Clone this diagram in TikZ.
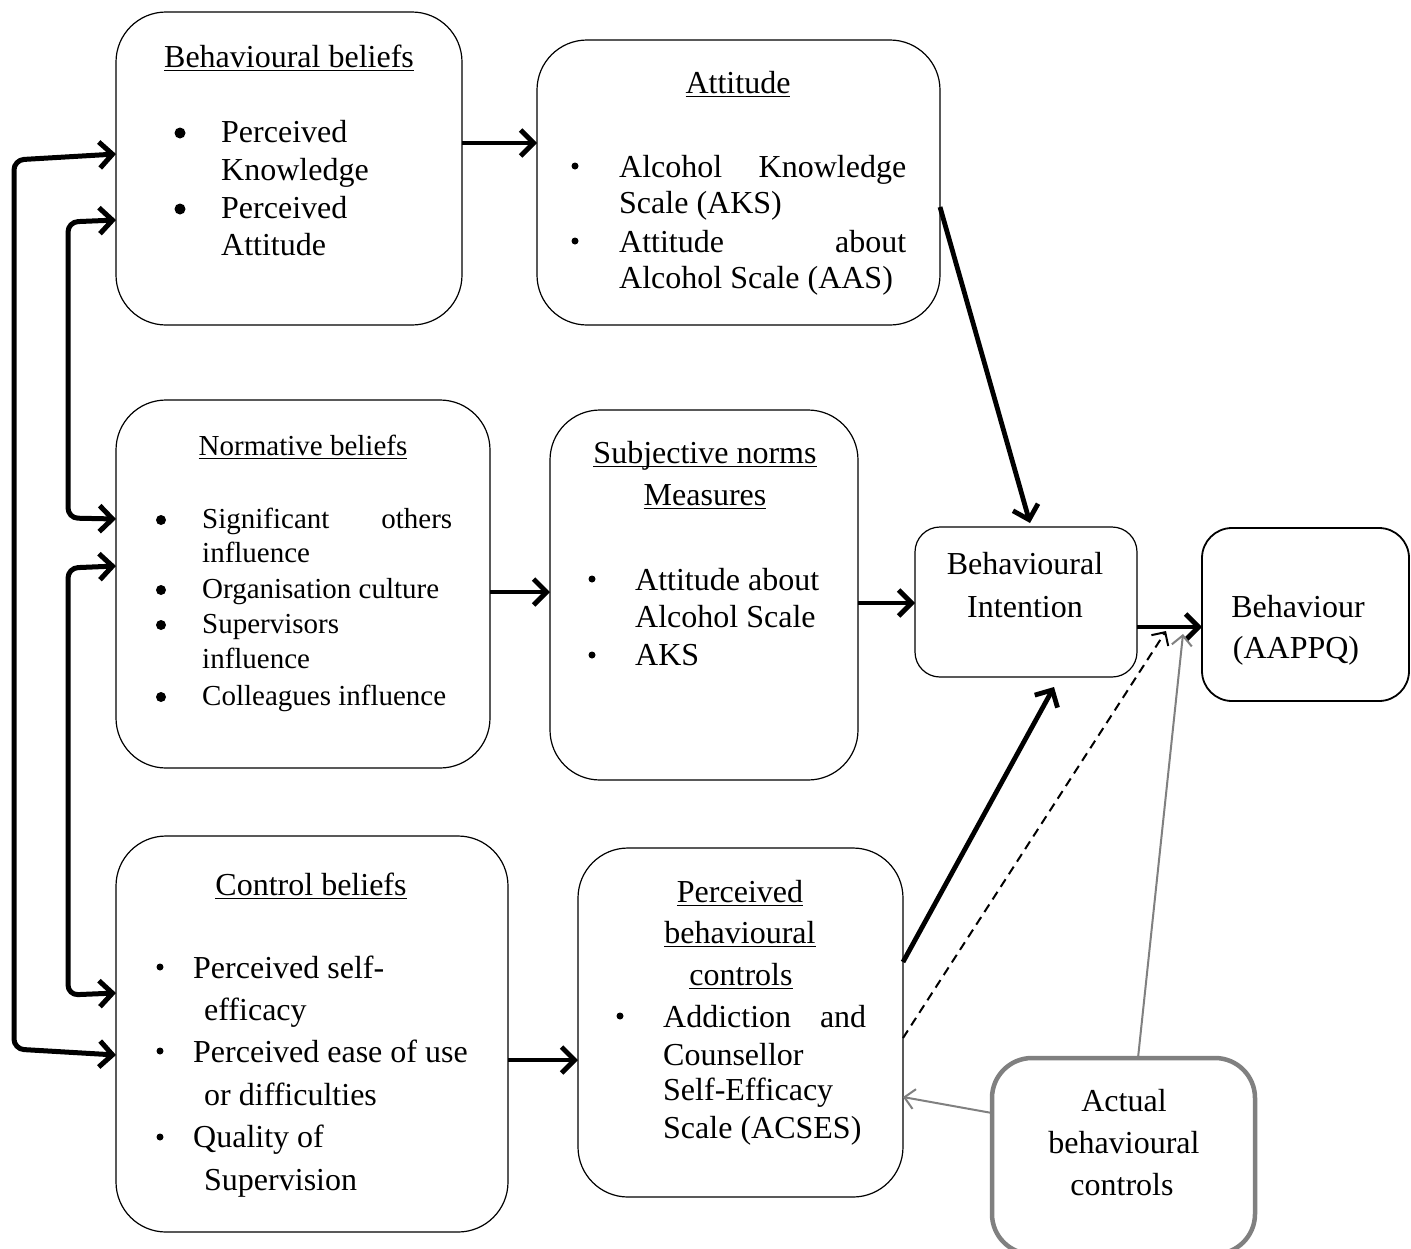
\documentclass[tikz,border=0pt]{standalone}
\usepackage{fontspec}
\setmainfont{Liberation Serif}
\usetikzlibrary{arrows.meta}
\newcommand\myul[1]{\leavevmode\setbox0=\hbox{#1}\rlap{\rule[-4pt]{\wd0}{1.4pt}}\box0}
\begin{document}
\begin{tikzpicture}[x=1pt,y=-1pt]
\tikzset{
 bx/.style={draw, line width=1.2pt, rounded corners=#1, inner sep=0pt, outer sep=0pt},
 bx/.default=50pt,
 tx/.style={inner sep=0pt, anchor=base west, font=\fontsize{32}{37}\selectfont},
 tc/.style={inner sep=0pt, anchor=base, font=\fontsize{32}{37}\selectfont},
 tn/.style={inner sep=0pt, anchor=base west, font=\fontsize{29}{35}\selectfont},
 tnc/.style={inner sep=0pt, anchor=base, font=\fontsize{29}{35}\selectfont},
 thk/.style={line width=4.8pt, -{Straight Barb[length=13pt,width=26pt]}},
 thkb/.style={line width=5pt, rounded corners=10pt, {Straight Barb[length=13pt,width=26pt]}-{Straight Barb[length=13pt,width=26pt]}},
 gry/.style={draw={rgb,255:red,128;green,128;blue,128}, line width=2pt, -{Straight Barb[length=10pt,width=20pt]}},
 dsh/.style={line width=2pt, dash pattern=on 9pt off 6pt, -{Straight Barb[length=10pt,width=20pt]}},
}
\useasboundingbox[fill=white] (0,0) rectangle (1411,1248);

% boxes
\node[bx, minimum width=346pt, minimum height=313pt] (BB) at (289,168.5) {};
\node[bx, minimum width=403pt, minimum height=285pt] (Att) at (738.5,182.5) {};
\node[bx, minimum width=374pt, minimum height=368pt] (NB) at (303,584) {};
\node[bx, minimum width=308pt, minimum height=370pt] (SN) at (704,595) {};
\node[bx=25pt, minimum width=222pt, minimum height=150pt] (BI) at (1026,602) {};
\node[bx=30pt, line width=1.8pt, minimum width=207pt, minimum height=173pt] (Beh) at (1305.5,614.5) {};
\node[bx, minimum width=392pt, minimum height=396pt] (CB) at (312,1034) {};
\node[bx, minimum width=325pt, minimum height=349pt] (PBC) at (740.5,1022.5) {};
\node[bx=40pt, draw={rgb,255:red,128;green,128;blue,128}, line width=4.5pt, minimum width=263pt, minimum height=196pt] (ABC) at (1123.5,1156) {};

% Behavioural beliefs
\node[tc] (t1) at (289,67) {\myul{Behavioural beliefs}};
\fill (180,133) circle[radius=5.5pt];
\fill (180,209) circle[radius=5.5pt];
\node[tx] (t2) at (221,142) {Perceived};
\node[tx] (t3) at (221,180) {Knowledge};
\node[tx] (t4) at (221,218) {Perceived};
\node[tx] (t5) at (221,255) {Attitude};

% Attitude
\node[tc] (t6) at (738,93) {\myul{Attitude}};
\fill (575,166) circle[radius=3.5pt];
\fill (575,241) circle[radius=3.5pt];
\node[tx] (t7) at (619,177) {\hbox to 287pt{Alcohol\hfill Knowledge}};
\node[tx] (t8) at (619,213) {Scale (AKS)};
\node[tx] (t9) at (619,252) {\hbox to 287pt{Attitude\hfill about}};
\node[tx] (t10) at (619,288) {Alcohol Scale (AAS)};

% Normative beliefs
\node[tnc] (t11) at (303,455) {\myul{Normative beliefs}};
\fill (161,520) circle[radius=5pt];
\fill (161,590) circle[radius=5pt];
\fill (161,625) circle[radius=5pt];
\fill (161,697) circle[radius=5pt];
\node[tn] (t12) at (202,528) {\hbox to 250pt{Significant\hfill others}};
\node[tn] (t13) at (202,562) {influence};
\node[tn] (t14) at (202,598) {Organisation culture};
\node[tn] (t15) at (202,633) {Supervisors};
\node[tn] (t16) at (202,668) {influence};
\node[tn] (t17) at (202,705) {Colleagues influence};

% Subjective norms
\node[tc] (t18) at (705,463) {\myul{Subjective norms}};
\node[tc] (t19) at (705,505) {\myul{Measures}};
\fill (592,579) circle[radius=3.5pt];
\fill (592,655) circle[radius=3.5pt];
\node[tx] (t20) at (635,590) {Attitude about};
\node[tx] (t21) at (635,627) {Alcohol Scale};
\node[tx] (t22) at (635,665) {AKS};

% Behavioural Intention / Behaviour
\node[tc] (t23) at (1025,574) {Behavioural};
\node[tc] (t24) at (1025,617) {Intention};
\node[tc] (t25) at (1298,617) {Behaviour};
\node[tc] (t26) at (1296,658) {(AAPPQ)};

% Control beliefs
\node[tc] (t27) at (311,895) {\myul{Control beliefs}};
\fill (160,967) circle[radius=3.5pt];
\fill (160,1051) circle[radius=3.5pt];
\fill (160,1137) circle[radius=3.5pt];
\node[tx] (t28) at (193,978) {Perceived self-};
\node[tx] (t29) at (204,1020) {efficacy};
\node[tx] (t30) at (193,1062) {Perceived ease of use};
\node[tx] (t31) at (204,1105) {or difficulties};
\node[tx] (t32) at (193,1147) {Quality of};
\node[tx] (t33) at (204,1190) {Supervision};

% Perceived behavioural controls
\node[tc] (t34) at (740,902) {\myul{Perceived}};
\node[tc] (t35) at (740,943) {\myul{behavioural}};
\node[tc] (t36) at (741,985) {\myul{controls}};
\fill (620,1016) circle[radius=3.5pt];
\node[tx] (t37) at (663,1027) {\hbox to 203pt{Addiction\hfill and}};
\node[tx] (t38) at (663,1065) {Counsellor};
\node[tx] (t39) at (663,1100) {Self-Efficacy};
\node[tx] (t40) at (663,1138) {Scale (ACSES)};

% Actual behavioural controls
\node[tc] (t41) at (1124,1111) {Actual};
\node[tc] (t42) at (1124,1153) {behavioural};
\node[tc] (t43) at (1122,1195) {controls};

% connectors
\draw[thk] (BB.east |- 0,143) -- (Att.west |- 0,143);
\draw[thk] (Att.east |- 0,207) -- ([xshift=4pt,yshift=4pt]BI.north);
\draw[thk] (NB.east |- 0,592) -- (SN.west |- 0,592);
\draw[thk] (SN.east |- 0,603) -- (BI.west |- 0,603);
\draw[thk] (BI.east |- 0,627) -- (Beh.west |- 0,627);
\draw[thk] (CB.east |- 0,1060) -- (PBC.west |- 0,1060);
\draw[thk] (PBC.east |- 0,962) -- ([xshift=28pt,yshift=-10pt]BI.south);
\draw[dsh] (PBC.east |- 0,1038) -- ([xshift=-36pt,yshift=-16.5pt]Beh.west);
\draw[gry] ([xshift=14.5pt]ABC.north) -- ([xshift=-19pt,yshift=-19.5pt]Beh.west);
\draw[gry] (ABC.west |- 0,1113) -- (PBC.east |- 0,1097);

% left feedback connectors
\draw[thkb] (BB.west |- 0,154) -- (14,160) -- (14,1049) -- (CB.west |- 0,1055);
\draw[thkb] (BB.west |- 0,220) -- (68,222) -- (68,518) -- (NB.west |- 0,519);
\draw[thkb] (NB.west |- 0,566) -- (68,568) -- (68,995) -- (CB.west |- 0,993);
\end{tikzpicture}
\end{document}
